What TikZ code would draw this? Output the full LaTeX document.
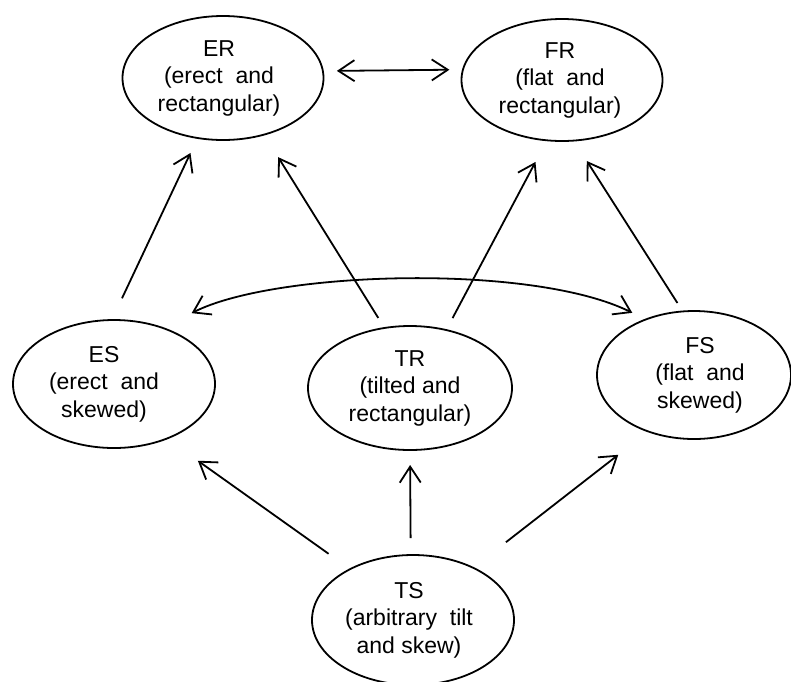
\documentclass[tikz,border=0pt]{standalone}
\usepackage{fontspec}
\setmainfont{Liberation Sans}
\usetikzlibrary{shapes.geometric, arrows.meta}
% #1 = twice the horizontal shift of the text inside its ellipse
\newcommand{\nodetext}[2]{\makebox[0pt]{\hspace*{#1}\begin{tabular}{@{}c@{}}#2\end{tabular}}}
\begin{document}
\begin{tikzpicture}[x=1pt, y=-1pt, line width=1.8pt,
  state/.style={draw, ellipse, inner sep=0pt, outer sep=0pt,
    font=\fontsize{23}{27.5}\selectfont},
  link/.style={-{Straight Barb[length=16pt,width=21pt]}},
  both/.style={{Straight Barb[length=16pt,width=21pt]}-{Straight Barb[length=16pt,width=21pt]}}]
\useasboundingbox (0,0) rectangle (791,681);
\node[state, minimum width=201pt, minimum height=124pt] (er) at (223,78) {\nodetext{-8pt}{ER\\(erect\ \ and\\rectangular)}};
\node[state, minimum width=201pt, minimum height=122pt] (fr) at (562,80) {\nodetext{-4pt}{FR\\(flat\ \ and\\rectangular)}};
\node[state, minimum width=202pt, minimum height=128pt] (es) at (114,384) {\nodetext{-20pt}{ES\\(erect\ \ and\\skewed)}};
\node[state, minimum width=204pt, minimum height=124pt] (tr) at (410,388) {\nodetext{0pt}{TR\\(tilted and\\rectangular)}};
\node[state, minimum width=194pt, minimum height=128pt] (fs) at (694,375) {\nodetext{12pt}{FS\\(flat\ \ and\\skewed)}};
\node[state, minimum width=202pt, minimum height=130pt] (ts) at (413,620) {\nodetext{-8pt}{TS\\(arbitrary\ \ tilt\\and skew)}};
\draw[link, shorten <=24pt, shorten >=16.6pt] (es.92) -- (er.247.5);
\draw[link, shorten <=11.8pt, shorten >=26.6pt] (tr.113.3) -- (er.306.8);
\draw[link, shorten <=13.5pt, shorten >=24.5pt] (tr.58.5) -- (fr.256.6);
\draw[link, shorten <=10pt, shorten >=24.2pt] (fs.100.3) -- (fr.281.3);
\draw[both, shorten <=14pt, shorten >=13.6pt] (er.4) -- (fr.174.8);
\draw[both, shorten <=32.5pt, shorten >=15pt] (es.49.5) .. controls (274,271) and (532,263) .. (fs.131.9);
\draw[link, shorten <=26.5pt, shorten >=38.2pt] (ts.141.5) -- (es.314.4);
\draw[link, shorten <=17pt, shorten >=15pt] (ts.92.6) -- (tr.south);
\draw[link, shorten <=41.6pt, shorten >=38pt] (ts.41) -- (fs.231.9);
\end{tikzpicture}
\end{document}
